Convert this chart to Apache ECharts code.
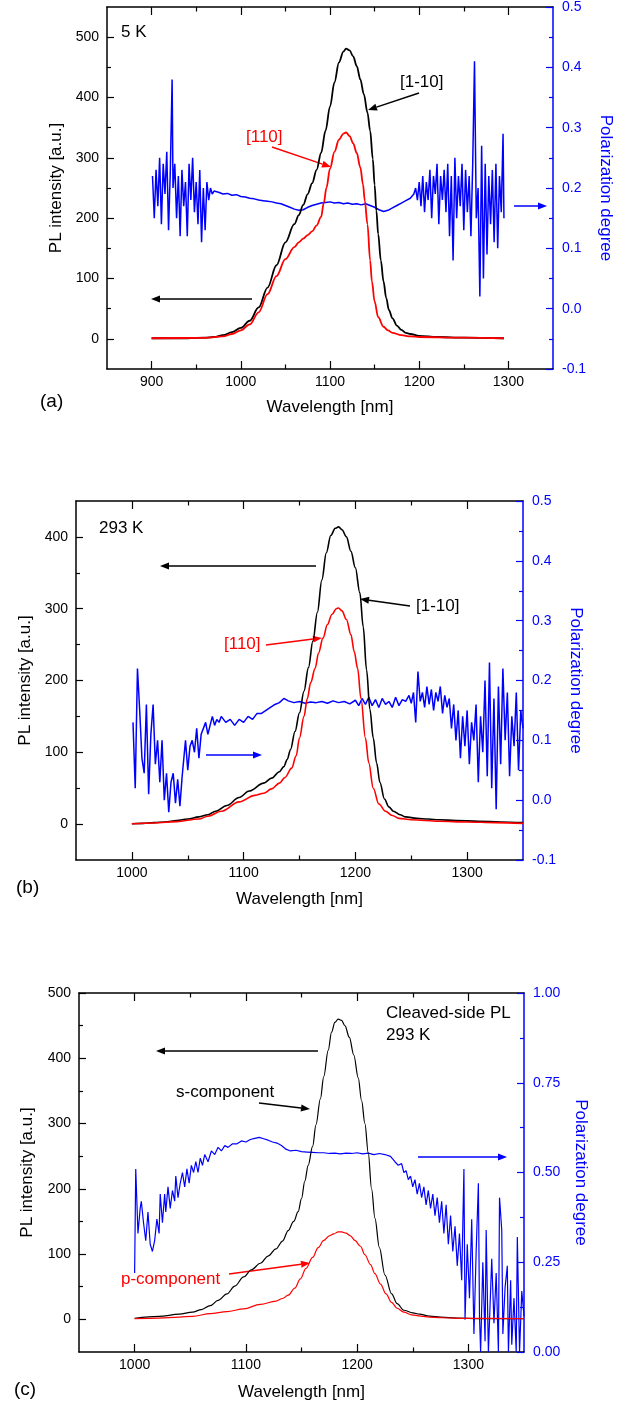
<!DOCTYPE html>
<html><head><meta charset="utf-8">
<script src="https://cdn.jsdelivr.net/npm/echarts@6/dist/echarts.min.js"></script>
<style>html,body{margin:0;padding:0;background:#fff}#c{width:624px;height:1407px}</style>
</head><body><div id="c"></div>
<script>
// ---------------- DATA ----------------
// Panel (a) 5 K
const a_1m10 = [[900,1],[920,1],[940,1],[960,2],[970,3],[980,6],[990,11],[1000,18],[1010,30],[1020,52],[1030,85],[1040,122],[1050,160],[1060,190],[1065,205],[1070,222],[1075,240],[1080,258],[1085,280],[1090,308],[1095,345],[1100,385],[1105,425],[1110,458],[1115,476],[1118,481],[1122,478],[1126,468],[1130,452],[1134,430],[1138,405],[1142,375],[1145,345],[1148,298],[1150,255],[1152,212],[1154,174],[1157,130],[1160,95],[1163,68],[1166,48],[1170,34],[1175,22],[1180,15],[1185,10],[1190,8],[1200,5],[1220,3],[1250,2],[1295,1]];
const a_110 = [[900,1],[960,1.5],[980,4],[990,8],[1000,14],[1010,24],[1020,44],[1030,74],[1040,104],[1050,132],[1060,152],[1065,160],[1070,166],[1075,172],[1080,178],[1085,188],[1090,202],[1093,225],[1096,250],[1100,282],[1105,310],[1110,330],[1115,340],[1118,342],[1122,336],[1126,324],[1130,308],[1134,284],[1137,256],[1139,229],[1142,190],[1145,130],[1147,95],[1150,62],[1154,36],[1160,20],[1165,14],[1170,10],[1180,6],[1190,4],[1200,3],[1250,2],[1295,1]];
const a_pol = [[901,0.22],[903,0.15],[905,0.23],[907,0.17],[909,0.25],[911,0.14],[913,0.24],[915,0.19],[917,0.26],[919,0.13],[921,0.23],[923,0.38],[924,0.2],[926,0.24],[928,0.15],[930,0.22],[932,0.12],[934,0.23],[936,0.17],[938,0.21],[940,0.12],[942,0.24],[944,0.18],[946,0.25],[948,0.16],[950,0.21],[952,0.14],[954,0.23],[956,0.11],[958,0.2],[960,0.13],[962,0.21],[964,0.18],[966,0.2],[968,0.19],[970,0.195],[975,0.193],[980,0.19],[985,0.191],[990,0.188],[995,0.189],[1000,0.186],[1005,0.185],[1010,0.183],[1015,0.182],[1020,0.18],[1025,0.179],[1030,0.178],[1035,0.177],[1040,0.175],[1045,0.174],[1050,0.171],[1055,0.168],[1060,0.165],[1065,0.163],[1070,0.164],[1075,0.168],[1080,0.171],[1085,0.173],[1090,0.175],[1095,0.176],[1100,0.177],[1105,0.175],[1110,0.176],[1115,0.174],[1120,0.175],[1125,0.173],[1130,0.174],[1135,0.172],[1140,0.174],[1145,0.171],[1150,0.168],[1155,0.164],[1160,0.161],[1165,0.163],[1170,0.167],[1175,0.171],[1180,0.175],[1185,0.179],[1190,0.183],[1194,0.19],[1196,0.2],[1198,0.18],[1200,0.21],[1202,0.17],[1204,0.22],[1206,0.16],[1208,0.21],[1210,0.18],[1212,0.23],[1214,0.15],[1216,0.22],[1218,0.19],[1220,0.24],[1222,0.14],[1224,0.22],[1226,0.18],[1228,0.23],[1230,0.16],[1232,0.24],[1234,0.12],[1236,0.22],[1238,0.08],[1240,0.25],[1242,0.15],[1244,0.22],[1246,0.17],[1248,0.24],[1250,0.13],[1252,0.23],[1254,0.16],[1256,0.22],[1258,0.12],[1260,0.24],[1262,0.41],[1264,0.15],[1266,0.2],[1268,0.02],[1270,0.27],[1272,0.05],[1274,0.24],[1276,0.09],[1278,0.22],[1280,0.14],[1282,0.23],[1284,0.11],[1286,0.24],[1288,0.1],[1290,0.22],[1292,0.16],[1294,0.29],[1295,0.15]];

// Panel (b) 293 K
const b_1m10 = [[1000,0.5],[1010,1],[1020,2],[1030,3],[1040,5],[1050,7],[1060,10],[1068,13],[1075,18],[1085,26],[1096,37],[1105,46],[1118,57],[1125,64],[1132,73],[1136,80],[1139,90],[1142,104],[1146,129],[1150,155],[1154,185],[1158,218],[1162,255],[1166,295],[1170,340],[1174,378],[1178,402],[1182,412],[1185,414],[1188,410],[1192,400],[1196,380],[1200,357],[1204,322],[1207,275],[1210,215],[1213,160],[1216,120],[1219,85],[1222,58],[1226,35],[1230,24],[1234,18],[1240,13],[1245,10],[1255,8],[1265,7],[1275,6],[1290,5],[1310,4],[1330,3],[1350,2]];
const b_110 = [[1000,0.5],[1020,1.5],[1040,3.5],[1060,7],[1068,11],[1080,18],[1096,31],[1110,40],[1118,43],[1125,49],[1132,57],[1137,65],[1143,78],[1147,95],[1150,120],[1154,150],[1157,175],[1160,197],[1164,217],[1167,238],[1171,259],[1175,278],[1179,292],[1183,300],[1185,301],[1188,297],[1192,285],[1196,264],[1199,240],[1202,217],[1205,175],[1209,120],[1212,85],[1216,50],[1221,28],[1227,18],[1233,12],[1239,8],[1250,6],[1275,4],[1300,3],[1325,2],[1350,1]];
const b_pol = [[1001,0.13],[1003,0.02],[1005,0.22],[1007,0.15],[1009,0.07],[1011,0.045],[1013,0.16],[1015,0.01],[1017,0.11],[1019,0.16],[1021,0.06],[1023,0.1],[1025,0.03],[1027,0.1],[1029,0.0],[1031,0.045],[1033,-0.02],[1035,0.03],[1037,0.045],[1039,-0.005],[1041,0.035],[1043,-0.01],[1045,0.04],[1047,0.08],[1048,0.1],[1050,0.05],[1052,0.09],[1054,0.1],[1056,0.08],[1058,0.12],[1060,0.07],[1062,0.11],[1064,0.12],[1066,0.13],[1068,0.11],[1070,0.125],[1072,0.14],[1074,0.125],[1076,0.135],[1078,0.13],[1080,0.14],[1084,0.13],[1088,0.135],[1092,0.125],[1096,0.135],[1100,0.13],[1104,0.14],[1108,0.135],[1112,0.145],[1116,0.145],[1120,0.15],[1124,0.155],[1128,0.16],[1132,0.163],[1136,0.17],[1140,0.166],[1145,0.163],[1150,0.165],[1155,0.162],[1160,0.164],[1165,0.163],[1170,0.165],[1175,0.162],[1180,0.166],[1185,0.163],[1190,0.165],[1195,0.161],[1200,0.167],[1203,0.158],[1206,0.17],[1209,0.16],[1212,0.172],[1215,0.158],[1218,0.168],[1221,0.155],[1224,0.17],[1227,0.16],[1230,0.165],[1233,0.155],[1236,0.172],[1239,0.158],[1242,0.168],[1245,0.165],[1248,0.175],[1250,0.162],[1252,0.18],[1254,0.13],[1256,0.215],[1258,0.165],[1260,0.18],[1262,0.155],[1264,0.19],[1266,0.16],[1268,0.185],[1270,0.15],[1272,0.18],[1274,0.165],[1276,0.19],[1278,0.145],[1280,0.175],[1282,0.155],[1284,0.17],[1286,0.12],[1288,0.16],[1290,0.1],[1292,0.15],[1294,0.07],[1296,0.14],[1298,0.09],[1300,0.15],[1302,0.06],[1304,0.13],[1306,0.1],[1308,0.16],[1310,0.03],[1312,0.14],[1314,0.08],[1316,0.2],[1318,0.04],[1320,0.23],[1322,0.02],[1324,0.17],[1326,-0.015],[1328,0.19],[1330,0.06],[1332,0.22],[1334,0.1],[1336,0.18],[1338,0.04],[1340,0.14],[1342,0.09],[1344,0.18],[1346,0.05],[1348,0.15],[1350,0.12]];

// Panel (c) cleaved-side PL 293 K
const c_s = [[1000,1.5],[1022,4.5],[1040,8],[1052,11],[1060,15],[1068,21],[1075,29],[1083,39],[1090,51],[1098,65],[1105,76],[1113,86],[1120,97],[1127,108],[1133,120],[1138,136],[1143,150],[1147,165],[1150,185],[1153,212],[1156,236],[1160,265],[1163,298],[1167,338],[1170,372],[1174,412],[1177,440],[1180,455],[1183,460],[1186,458],[1189,450],[1193,432],[1197,405],[1201,370],[1204,335],[1207,300],[1210,255],[1213,200],[1216,155],[1220,110],[1225,68],[1231,39],[1236,24],[1242,14],[1250,10],[1256,8],[1265,5],[1275,3.5],[1290,2],[1310,1],[1350,1]];
const c_p = [[1000,1],[1022,2],[1040,3.5],[1052,4.6],[1068,8.7],[1083,12],[1098,16],[1113,23],[1127,28],[1133,32],[1138,37],[1144,48],[1149,62],[1154,78],[1160,95],[1165,110],[1170,121],[1175,128],[1179,131],[1183,134],[1186,134],[1190,132],[1194,128],[1198,121],[1203,112],[1207,99],[1212,84],[1216,70],[1221,54],[1226,39],[1231,26],[1236,17],[1242,11],[1249,7],[1257,5],[1265,3.5],[1275,2.5],[1300,1.5],[1350,1]];
const c_pol = [[1000,0.22],[1001,0.51],[1003,0.33],[1005,0.4],[1006,0.42],[1008,0.36],[1010,0.31],[1012,0.39],[1014,0.3],[1016,0.28],[1018,0.31],[1020,0.37],[1022,0.33],[1023,0.44],[1025,0.36],[1027,0.44],[1028,0.39],[1030,0.46],[1032,0.4],[1034,0.45],[1036,0.42],[1037,0.49],[1039,0.43],[1041,0.47],[1043,0.5],[1045,0.46],[1047,0.51],[1049,0.47],[1051,0.52],[1053,0.5],[1055,0.53],[1057,0.5],[1059,0.54],[1061,0.52],[1063,0.55],[1066,0.53],[1069,0.56],[1072,0.55],[1075,0.57],[1078,0.56],[1081,0.575],[1084,0.57],[1088,0.58],[1092,0.58],[1096,0.588],[1100,0.585],[1104,0.592],[1108,0.595],[1112,0.598],[1116,0.594],[1120,0.59],[1124,0.585],[1128,0.582],[1132,0.575],[1136,0.565],[1140,0.56],[1145,0.562],[1150,0.558],[1155,0.557],[1160,0.556],[1165,0.555],[1170,0.555],[1175,0.553],[1180,0.554],[1185,0.552],[1190,0.554],[1195,0.553],[1200,0.555],[1205,0.552],[1210,0.554],[1215,0.55],[1220,0.553],[1225,0.55],[1230,0.545],[1234,0.53],[1237,0.52],[1240,0.525],[1242,0.5],[1244,0.505],[1246,0.48],[1248,0.49],[1250,0.46],[1252,0.48],[1254,0.44],[1256,0.47],[1258,0.43],[1260,0.46],[1262,0.41],[1264,0.45],[1266,0.4],[1268,0.44],[1270,0.38],[1272,0.43],[1274,0.36],[1276,0.42],[1278,0.33],[1280,0.41],[1282,0.3],[1284,0.38],[1286,0.28],[1288,0.35],[1290,0.24],[1292,0.33],[1294,0.2],[1296,0.51],[1297,0.09],[1299,0.3],[1301,0.15],[1303,0.37],[1305,0.05],[1307,0.28],[1309,0.47],[1310,0.1],[1311,0.0],[1313,0.25],[1315,0.03],[1316,0.34],[1318,0.0],[1321,0.26],[1323,0.08],[1325,0.22],[1327,0.0],[1328,0.43],[1330,0.34],[1331,0.05],[1333,0.18],[1335,0.24],[1336,0.0],[1338,0.2],[1339,0.02],[1341,0.15],[1343,0.0],[1344,0.32],[1346,0.0],[1348,0.17],[1350,0.1]];

// tick values
const xMajorA = [900,1000,1100,1200,1300];
const xMinorA = [950,1050,1150,1250];
const xMajorBC = [1000,1100,1200,1300];
const xMinorBC = [1050,1150,1250];
const yMajorA = [0,100,200,300,400,500];
const yMinorA = [50,150,250,350,450];
const yMajorB = [0,100,200,300,400];
const yMinorB = [50,150,250,350];
const yMajorC = [0,100,200,300,400,500];
const yMinorC = [50,150,250,350,450];
const pMajorAB = [-0.1,0,0.1,0.2,0.3,0.4,0.5];
const pMinorAB = [-0.05,0.05,0.15,0.25,0.35,0.45];
const pMajorC = [0,0.25,0.5,0.75,1.0];
const pMinorC = [0.125,0.375,0.625,0.875];

// ---------------- CHART ----------------
const FF = '"Liberation Sans", Arial, sans-serif';
const BLUE = '#0000ff', RED = '#ff0000', BLACK = '#000000';
const chart = echarts.init(document.getElementById('c'), null, {renderer: 'canvas'});

const grids = [
  {left: 107, top: 6, width: 446, height: 363},
  {left: 76, top: 501, width: 447, height: 359},
  {left: 79, top: 993, width: 445, height: 359}
];
const xAxes = [], yAxes = [];
const f0 = v => String(Math.round(v));
const f1 = v => (Math.abs(v) < 1e-9 ? 0 : v).toFixed(1);
const f2 = v => (Math.abs(v) < 1e-9 ? 0 : v).toFixed(2);

function addX(gi, min, max, major, minor, nameGap) {
  const base = {type: 'value', gridIndex: gi, min, max, splitLine: {show: false}};
  const idx = xAxes.length;
  xAxes.push(Object.assign({}, base, {position: 'bottom',
    axisLine: {show: true, onZero: false, lineStyle: {color: BLACK, width: 1.5}},
    axisTick: {show: true, inside: true, length: 8, customValues: major, lineStyle: {color: BLACK, width: 1.2}},
    axisLabel: {show: true, customValues: major, color: BLACK, fontSize: 14, fontFamily: FF, margin: 6, formatter: f0},
    name: 'Wavelength [nm]', nameLocation: 'middle', nameGap: nameGap,
    nameTextStyle: {color: BLACK, fontSize: 17, fontFamily: FF}}));
  xAxes.push(Object.assign({}, base, {position: 'bottom', axisLine: {show: false, onZero: false},
    axisTick: {show: true, inside: true, length: 4.5, customValues: minor, lineStyle: {color: BLACK, width: 1.2}},
    axisLabel: {show: false}}));
  xAxes.push(Object.assign({}, base, {position: 'top',
    axisLine: {show: true, onZero: false, lineStyle: {color: BLACK, width: 1.5}},
    axisTick: {show: true, inside: true, length: 8, customValues: major, lineStyle: {color: BLACK, width: 1.2}},
    axisLabel: {show: false}}));
  xAxes.push(Object.assign({}, base, {position: 'top', axisLine: {show: false, onZero: false},
    axisTick: {show: true, inside: true, length: 4.5, customValues: minor, lineStyle: {color: BLACK, width: 1.2}},
    axisLabel: {show: false}}));
  return idx;
}
function addY(gi, min, max, major, minor, nameGap, side, color, fmt, name, nameRotate) {
  const base = {type: 'value', gridIndex: gi, min, max, splitLine: {show: false}, position: side};
  const idx = yAxes.length;
  yAxes.push(Object.assign({}, base, {
    axisLine: {show: true, onZero: false, lineStyle: {color: color, width: 1.5}},
    axisTick: {show: true, inside: true, length: 7, customValues: major, lineStyle: {color: color, width: 1.2}},
    axisLabel: {show: true, customValues: major, color: color, fontSize: 14, fontFamily: FF, margin: side === 'left' ? 8 : 9,
      formatter: fmt},
    name: name, nameLocation: 'middle', nameGap: nameGap, nameRotate: nameRotate,
    nameTextStyle: {color: color, fontSize: 17, fontFamily: FF}}));
  yAxes.push(Object.assign({}, base, {axisLine: {show: false, onZero: false},
    axisTick: {show: true, inside: true, length: 4, customValues: minor, lineStyle: {color: color, width: 1.2}},
    axisLabel: {show: false}}));
  return idx;
}

const xa = addX(0, 850, 1350, xMajorA, xMinorA, 30);
const xb = addX(1, 950, 1350, xMajorBC, xMinorBC, 31);
const xc = addX(2, 950, 1350, xMajorBC, xMinorBC, 32);
const yaL = addY(0, -50, 550, yMajorA, yMinorA, 42, 'left', BLACK, f0, 'PL intensity [a.u.]', 90);
const yaR = addY(0, -0.1, 0.5, pMajorAB, pMinorAB, 44, 'right', BLUE, f1, 'Polarization degree', -90);
const ybL = addY(1, -50, 450, yMajorB, yMinorB, 41, 'left', BLACK, f0, 'PL intensity [a.u.]', 90);
const ybR = addY(1, -0.1, 0.5, pMajorAB, pMinorAB, 43, 'right', BLUE, f1, 'Polarization degree', -90);
const ycL = addY(2, -50, 500, yMajorC, yMinorC, 43, 'left', BLACK, f0, 'PL intensity [a.u.]', 90);
const ycR = addY(2, 0, 1, pMajorC, pMinorC, 48, 'right', BLUE, f2, 'Polarization degree', -90);

function line(data, xi, yi, color, w, smooth) {
  return {type: 'line', data, xAxisIndex: xi, yAxisIndex: yi, showSymbol: false, symbol: 'none',
    smooth: smooth ? 0.35 : false, smoothMonotone: 'x', clip: true,
    lineStyle: {color, width: w}, itemStyle: {color}, animation: false, silent: true};
}
const series = [
  line(a_pol, xa, yaR, BLUE, 1.5, false),
  line(a_1m10, xa, yaL, BLACK, 1.8, true),
  line(a_110, xa, yaL, RED, 1.8, true),
  line(b_pol, xb, ybR, BLUE, 1.5, false),
  line(b_1m10, xb, ybL, BLACK, 1.6, true),
  line(b_110, xb, ybL, RED, 1.6, true),
  line(c_pol, xc, ycR, BLUE, 1.2, false),
  line(c_s, xc, ycL, BLACK, 1.2, true),
  line(c_p, xc, ycL, RED, 1.2, true)
];

// annotations
function txt(x, y, text, color, size) {
  return {type: 'text', x, y, silent: true, style: {text, fill: color || BLACK, fontSize: size || 17, fontFamily: FF, align: 'left', verticalAlign: 'middle'}};
}
function arrow(x1, y1, x2, y2, color, w) {
  const ang = Math.atan2(y2 - y1, x2 - x1), L = 9, W = 3.5;
  const bx = x2 - L * Math.cos(ang), by = y2 - L * Math.sin(ang);
  const px = -Math.sin(ang) * W, py = Math.cos(ang) * W;
  return [
    {type: 'line', silent: true, shape: {x1, y1, x2: bx, y2: by}, style: {stroke: color, lineWidth: w || 1.5}},
    {type: 'polygon', silent: true, shape: {points: [[x2, y2], [bx + px, by + py], [bx - px, by - py]]}, style: {fill: color}}
  ];
}
const graphic = [].concat(
  txt(121, 32, '5 K'),
  txt(400, 82, '[1-10]'),
  arrow(419, 93, 368, 110, BLACK),
  txt(246, 137, '[110]', RED),
  arrow(272, 147, 331, 167, RED),
  arrow(252, 299, 151, 299, BLACK),
  arrow(514, 206, 547, 206, BLUE),
  txt(40, 402, '(a)', BLACK, 19),
  txt(99, 528, '293 K'),
  arrow(316, 566, 160, 566, BLACK),
  txt(416, 606, '[1-10]'),
  arrow(410, 606, 360, 599, BLACK),
  txt(224, 644, '[110]', RED),
  arrow(266, 645, 322, 638, RED),
  arrow(206, 755, 262, 755, BLUE),
  txt(16, 888, '(b)', BLACK, 19),
  txt(386, 1013, 'Cleaved-side PL'),
  txt(386, 1035, '293 K'),
  arrow(318, 1051, 156, 1051, BLACK),
  txt(176, 1092, 's-component'),
  arrow(259, 1103, 310, 1109, BLACK),
  arrow(418, 1157, 507, 1157, BLUE),
  txt(121, 1279, 'p-component', RED),
  arrow(229, 1274, 310, 1263, RED),
  txt(14, 1390, '(c)', BLACK, 19)
);

chart.setOption({
  animation: false,
  backgroundColor: '#ffffff',
  textStyle: {fontFamily: FF},
  grid: grids,
  xAxis: xAxes,
  yAxis: yAxes,
  series,
  graphic
});
</script>
</body></html>
